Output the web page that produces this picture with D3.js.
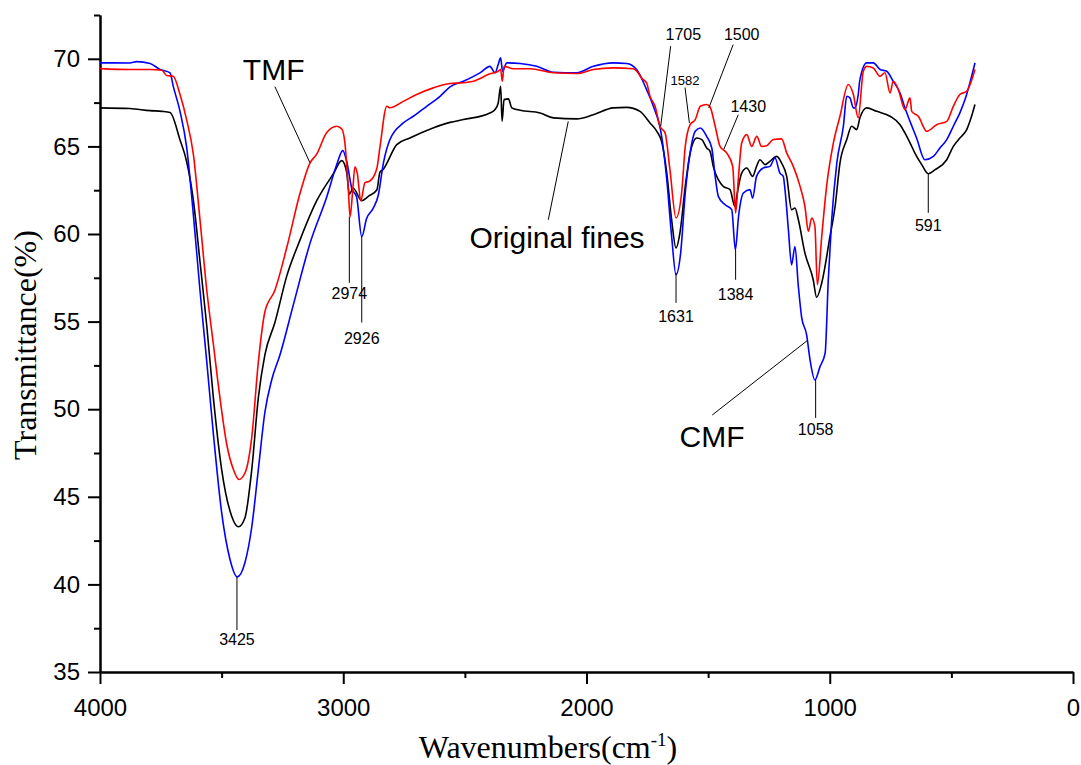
<!DOCTYPE html>
<html>
<head>
<meta charset="utf-8">
<script src="https://d3js.org/d3.v7.min.js"></script>
<style>
  body { margin: 0; background: #fff; }
  .tick text { font-family: "Liberation Sans", Arial, sans-serif; font-size: 24px; fill: #000; }
  .axis path, .axis line { stroke: #000; stroke-width: 2px; }
  .ann { font-family: "Liberation Sans", Arial, sans-serif; fill: #000; }
  .title { font-family: "Liberation Serif", "Times New Roman", serif; font-size: 32px; fill: #000; }
</style>
</head>
<body>
<div id="chart"></div>
<script>
// spectra: [wavenumber, transmittance %]
var originalFines = [
  [4000,67.20],[3877,67.16],[3794,67.04],[3745,67.00],[3712,66.93],[3671,65.37],[3644,64.15],
  [3616,61.90],[3589,58.43],[3561,54.75],[3534,50.66],[3500,46.57],[3459,43.91],[3431,43.29],
  [3404,43.81],[3376,46.57],[3349,50.66],[3322,53.11],[3281,54.95],[3232,57.61],[3178,59.65],
  [3109,61.90],[3041,63.43],[3006,64.19],[2986,63.53],[2975,62.27],[2959,62.61],[2924,61.90],
  [2897,62.15],[2862,62.51],[2849,63.53],[2837,63.67],[2780,65.10],[2726,65.48],[2631,66.05],
  [2561,66.37],[2506,66.53],[2397,66.91],[2376,67.10],[2363,67.48],[2353,68.43],[2347,66.43],
  [2339,67.67],[2321,67.71],[2307,67.20],[2273,67.06],[2191,66.91],[2136,66.63],[2040,66.57],
  [1972,66.81],[1890,67.20],[1835,67.23],[1780,67.00],[1739,66.34],[1711,65.86],[1691,65.27],
  [1670,63.48],[1650,60.81],[1632,59.20],[1616,60.05],[1594,62.72],[1574,64.62],[1547,65.48],
  [1526,65.39],[1506,64.91],[1492,64.72],[1479,63.86],[1458,63.10],[1438,62.72],[1410,62.53],
  [1390,61.57],[1380,62.34],[1362,63.48],[1341,63.77],[1317,63.29],[1301,63.86],[1287,64.24],
  [1266,63.96],[1246,64.15],[1218,64.43],[1198,64.05],[1177,63.29],[1157,61.39],[1143,61.48],
  [1129,60.81],[1102,58.91],[1068,57.39],[1054,56.39],[1033,57.20],[999,59.86],[978,61.57],
  [958,64.05],[930,65.39],[910,66.15],[889,65.96],[876,66.63],[848,67.20],[807,67.00],
  [752,66.72],[711,66.24],[691,65.77],[670,65.20],[650,64.62],[622,63.96],[595,63.44],
  [567,63.67],[519,64.24],[492,65.00],[465,65.48],[437,65.96],[417,66.72],[403,67.39]
];

var tmf = [
  [4000,69.44],[3877,69.39],[3794,69.39],[3746,69.35],[3726,69.05],[3699,69.00],[3671,67.96],
  [3644,66.53],[3616,64.53],[3589,60.82],[3561,56.79],[3534,53.72],[3507,50.66],[3479,48.00],
  [3452,46.57],[3429,45.99],[3404,46.36],[3376,48.41],[3349,52.70],[3322,55.56],[3281,56.79],
  [3232,59.24],[3178,62.31],[3137,64.05],[3109,64.56],[3068,65.79],[3027,66.15],[3006,65.99],
  [2993,65.17],[2979,62.51],[2972,60.98],[2961,62.51],[2952,63.84],[2942,63.43],[2928,61.90],
  [2911,62.92],[2890,63.03],[2862,63.74],[2849,64.97],[2821,67.29],[2808,67.21],[2753,67.57],
  [2698,67.96],[2630,68.34],[2561,68.59],[2506,68.63],[2465,68.72],[2397,69.14],[2363,69.29],
  [2353,69.39],[2346,68.72],[2339,69.57],[2301,69.43],[2232,69.43],[2136,69.20],[2040,69.16],
  [1972,69.39],[1890,69.48],[1808,69.43],[1767,68.81],[1753,68.63],[1739,67.86],[1718,67.29],
  [1698,66.15],[1677,65.77],[1657,63.67],[1632,60.91],[1609,62.34],[1594,65.00],[1574,66.24],
  [1553,66.53],[1532,67.29],[1506,67.39],[1492,67.25],[1471,66.15],[1451,65.00],[1424,64.63],
  [1399,63.86],[1387,61.20],[1376,63.10],[1362,65.20],[1341,65.67],[1321,65.00],[1300,65.57],
  [1280,65.00],[1260,65.04],[1232,65.39],[1198,65.43],[1177,64.63],[1150,63.86],[1122,62.72],
  [1102,61.57],[1088,60.15],[1074,60.91],[1061,60.43],[1051,57.10],[1033,59.86],[1013,62.72],
  [985,65.20],[958,66.72],[924,68.53],[903,67.96],[883,66.63],[862,69.29],[848,69.57],
  [821,69.48],[793,69.00],[773,69.20],[752,68.05],[739,68.72],[718,68.24],[691,67.10],
  [670,67.77],[663,67.00],[636,66.72],[601,65.86],[561,66.24],[519,66.43],[492,67.29],
  [465,67.96],[437,68.15],[403,69.39]
];

var cmf = [
  [4000,69.77],[3877,69.76],[3849,69.84],[3794,69.73],[3753,69.39],[3712,69.20],[3699,68.44],
  [3671,67.00],[3644,64.97],[3616,61.08],[3589,56.79],[3561,52.70],[3534,48.61],[3500,44.11],
  [3466,41.45],[3436,40.43],[3404,41.25],[3376,43.29],[3349,46.57],[3322,49.84],[3294,51.68],
  [3260,53.11],[3205,55.97],[3137,59.45],[3068,62.11],[3027,63.95],[3002,64.76],[2986,64.15],
  [2965,62.61],[2945,62.11],[2924,59.85],[2904,60.88],[2876,61.49],[2856,62.21],[2835,64.05],
  [2808,65.39],[2753,66.34],[2712,66.72],[2657,67.29],[2602,67.86],[2561,68.40],[2506,68.72],
  [2438,69.20],[2397,69.57],[2376,69.20],[2363,69.67],[2353,70.05],[2345,69.29],[2328,69.77],
  [2273,69.73],[2205,69.57],[2136,69.23],[2040,69.20],[1972,69.57],[1890,69.77],[1835,69.73],
  [1794,69.39],[1753,68.24],[1725,67.29],[1691,65.57],[1670,63.10],[1650,59.86],[1632,57.67],
  [1613,58.91],[1594,62.34],[1574,64.63],[1553,65.86],[1532,66.05],[1506,65.57],[1485,64.91],
  [1471,63.29],[1458,62.15],[1430,61.67],[1403,61.39],[1388,59.10],[1375,61.00],[1355,62.34],
  [1328,62.53],[1317,62.05],[1301,63.29],[1273,63.77],[1246,63.86],[1225,64.34],[1205,63.48],
  [1191,63.29],[1184,62.53],[1170,60.24],[1157,58.24],[1143,59.29],[1129,57.00],[1116,55.29],
  [1095,54.24],[1081,52.82],[1061,51.67],[1040,52.43],[1019,53.20],[1006,57.39],[992,60.81],
  [971,64.05],[944,66.15],[930,67.86],[917,67.77],[903,67.20],[896,67.20],[883,67.96],
  [876,68.81],[848,69.77],[821,69.77],[793,69.39],[766,69.29],[739,68.72],[711,68.05],
  [691,67.20],[670,66.43],[643,65.48],[609,64.24],[574,64.43],[547,64.91],[519,65.39],
  [492,66.15],[465,66.91],[444,67.67],[424,68.62],[403,69.77]
];

var xMajorTicks = [4000, 3000, 2000, 1000, 0];
var xMinorTicks = [3500, 2500, 1500, 500];
var yMajorTicks = [35, 40, 45, 50, 55, 60, 65, 70];
var yMinorTicks = [37.5, 42.5, 47.5, 52.5, 57.5, 62.5, 67.5, 72.5];

// peak labels: text, wavenumber, line top T, line bottom T, text baseline T, font size
var peakLabels = [
  ["3425", 3437, 40.41, 37.39, 36.55, 16],
  ["2974", 2975, 60.99, 57.21, 56.28, 16],
  ["2926", 2924, 59.86, 54.95, 53.75, 16],
  ["1631", 1632, 57.79, 56.07, 55.00, 16],
  ["1384", 1387, 59.10, 57.39, 56.24, 16],
  ["1058", 1058, 51.67, 49.50, 48.53, 16],
  ["591", 595, 63.44, 61.21, 60.15, 16]
];

// slanted leaders: text, text wn, text T, line from [wn,T], line to [wn,T], font size
var slantLabels = [
  ["1705", 1602, 71.06, [1654, 70.72], [1695, 66.15], 16],
  ["1582", 1595, 68.53, [1595, 68.36], [1577, 66.34], 13],
  ["1500", 1362, 71.06, [1397, 70.81], [1497, 67.20], 16],
  ["1430", 1335, 66.95, [1376, 66.81], [1435, 64.85], 16],
  ["TMF", 3286, 68.81, [3281, 68.41], [3137, 64.07], 30],
  ["Original fines", 2121, 59.21, [2157, 60.81], [2075, 66.43], 30],
  ["CMF", 1484, 47.86, [1483, 49.67], [1092, 53.92], 30]
];

var svgWidth = 1081, svgHeight = 765;
var margin = { top: 15, right: 8, bottom: 93, left: 100 };
var chart_width = svgWidth - margin.left - margin.right;
var chart_height = svgHeight - margin.top - margin.bottom;

var svg = d3.select("#chart").append("svg")
  .attr("width", svgWidth)
  .attr("height", svgHeight);

var chartGroup = svg.append("g")
  .attr("transform", `translate(${margin.left}, ${margin.top})`);

var xScale = d3.scaleLinear().domain([4000, 0]).range([0, chart_width]);
var yScale = d3.scaleLinear().domain([35, 72.5]).range([chart_height, 0]);

// axes
chartGroup.append("g")
  .attr("class", "axis")
  .attr("transform", `translate(0, ${chart_height})`)
  .call(d3.axisBottom(xScale).tickValues(xMajorTicks).tickSize(12).tickSizeOuter(0).tickPadding(15).tickFormat(d3.format("d")));
chartGroup.append("g")
  .attr("class", "axis")
  .attr("transform", `translate(0, ${chart_height})`)
  .call(d3.axisBottom(xScale).tickValues(xMinorTicks).tickSize(6).tickSizeOuter(0).tickFormat(""));

chartGroup.append("g")
  .attr("class", "axis")
  .call(d3.axisLeft(yScale).tickValues(yMajorTicks).tickSize(12).tickSizeOuter(0).tickPadding(8));
chartGroup.append("g")
  .attr("class", "axis")
  .call(d3.axisLeft(yScale).tickValues(yMinorTicks).tickSize(6).tickSizeOuter(0).tickFormat(""));

// spectra
var line = d3.line()
  .curve(d3.curveMonotoneX)
  .x(d => xScale(d[0]))
  .y(d => yScale(d[1]));

[[originalFines, "#000000"], [cmf, "#0000ff"], [tmf, "#ff0000"]].forEach(function(s) {
  chartGroup.append("path")
    .datum(s[0])
    .attr("d", line)
    .attr("fill", "none")
    .attr("stroke", s[1])
    .attr("stroke-width", 1.6)
    .attr("stroke-linejoin", "round");
});

// annotations
var annGroup = chartGroup.append("g");
peakLabels.forEach(function(p) {
  annGroup.append("line")
    .attr("x1", xScale(p[1])).attr("x2", xScale(p[1]))
    .attr("y1", yScale(p[2])).attr("y2", yScale(p[3]))
    .attr("stroke", "#000").attr("stroke-width", 1);
  annGroup.append("text")
    .attr("class", "ann")
    .attr("x", xScale(p[1]))
    .attr("y", yScale(p[4]))
    .attr("text-anchor", "middle")
    .attr("font-size", p[5])
    .text(p[0]);
});

slantLabels.forEach(function(p) {
  annGroup.append("line")
    .attr("x1", xScale(p[3][0])).attr("y1", yScale(p[3][1]))
    .attr("x2", xScale(p[4][0])).attr("y2", yScale(p[4][1]))
    .attr("stroke", "#000").attr("stroke-width", 1);
  annGroup.append("text")
    .attr("class", "ann")
    .attr("x", xScale(p[1]))
    .attr("y", yScale(p[2]))
    .attr("text-anchor", "middle")
    .attr("font-size", p[5])
    .text(p[0]);
});

// axis titles
var xTitle = svg.append("text")
  .attr("class", "title")
  .attr("x", 548)
  .attr("y", 758)
  .attr("text-anchor", "middle");
xTitle.append("tspan").text("Wavenumbers(cm");
xTitle.append("tspan").attr("font-size", 19).attr("dy", -12).text("-1");
xTitle.append("tspan").attr("dy", 12).text(")");

svg.append("text")
  .attr("class", "title")
  .attr("transform", "translate(36, 345) rotate(-90)")
  .attr("text-anchor", "middle")
  .text("Transmittance(%)");
</script>
</body>
</html>
